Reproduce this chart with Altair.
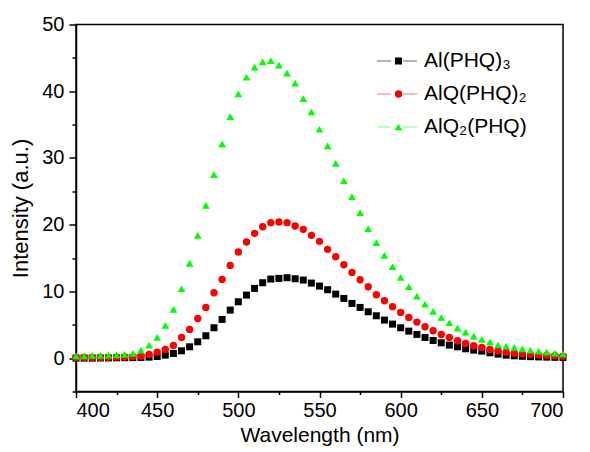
import altair as alt
import pandas as pd

wavelength = list(range(400, 701, 5))

al_phq3 = [0.0, 0.0, 0.0, 0.02, 0.03, 0.05, 0.06, 0.08, 0.1, 0.15,
           0.25, 0.45, 0.7, 1.1, 1.7, 2.45, 3.35, 4.55, 5.8, 7.2,
           8.45, 9.45, 10.45, 11.3, 11.85, 11.95, 12.05, 11.9, 11.7, 11.25,
           10.8, 10.25, 9.6, 8.95, 8.2, 7.6, 6.95, 6.35, 5.7, 5.1,
           4.55, 4.05, 3.55, 3.1, 2.65, 2.3, 1.95, 1.7, 1.4, 1.2,
           1.05, 0.8, 0.6, 0.45, 0.35, 0.28, 0.22, 0.18, 0.15, 0.12, 0.1]

alq_phq2 = [0.1, 0.1, 0.1, 0.1, 0.12, 0.15, 0.18, 0.22, 0.3, 0.55,
            0.9, 1.3, 1.9, 3.1, 4.3, 5.95, 7.6, 9.8, 11.8, 13.9,
            15.9, 17.4, 18.7, 19.7, 20.3, 20.4, 20.3, 19.8, 19.3, 18.4,
            17.5, 16.3, 15.2, 14.0, 12.85, 11.75, 10.7, 9.5, 8.6, 7.7,
            6.85, 6.1, 5.4, 4.7, 4.1, 3.55, 3.1, 2.6, 2.2, 1.85,
            1.6, 1.3, 1.1, 0.9, 0.75, 0.65, 0.55, 0.48, 0.42, 0.36, 0.3]

alq2_phq = [0.35, 0.35, 0.4, 0.4, 0.45, 0.5, 0.55, 0.7, 1.2, 1.95,
            3.1, 4.9, 7.3, 10.4, 14.2, 18.4, 22.9, 27.5, 32.1, 36.2,
            39.6, 42.1, 43.6, 44.4, 44.6, 43.9, 42.7, 41.2, 38.9, 36.9,
            34.3, 31.8, 29.2, 26.6, 24.2, 21.8, 19.4, 17.3, 15.4, 13.7,
            12.1, 10.7, 9.3, 8.1, 7.0, 6.1, 5.3, 4.5, 3.9, 3.3,
            2.8, 2.4, 2.0, 1.8, 1.6, 1.4, 1.2, 1.05, 0.9, 0.75, 0.65]

series_names = ["Al(PHQ)\u2083", "AlQ(PHQ)\u2082", "AlQ\u2082(PHQ)"]
line_keys = ["line 1", "line 2", "line 3"]
marker_colors = ["#000000", "#ff0000", "#00ff00"]
line_colors = ["#707070", "#ff8080", "#80ff80"]
marker_shapes = ["square", "circle", "triangle-up"]
marker_sizes = [49, 60, 80]

x_major = [400, 450, 500, 550, 600, 650, 700]
x_minor = [425, 475, 525, 575, 625, 675]
y_major = [0, 10, 20, 30, 40, 50]
y_minor = [-5, 5, 15, 25, 35, 45]

rows = []
for name, key, vals in zip(series_names, line_keys, [al_phq3, alq_phq2, alq2_phq]):
    for w, v in zip(wavelength, vals):
        rows.append({"wavelength": w, "intensity": v, "series": name, "series_line": key})
df = pd.DataFrame(rows)

FONT = "Liberation Sans"
xscale = alt.Scale(domain=[400, 700], nice=False, zero=False)
yscale = alt.Scale(domain=[-5, 50], nice=False, zero=False)

marker_legend = alt.Legend(orient="none", legendX=312, legendY=26, title=None,
                           labelFont=FONT, labelFontSize=21, labelColor="#000000",
                           labelOffset=15, rowPadding=11, padding=0,
                           symbolSize=50, symbolStrokeWidth=0)

points = alt.Chart(df).mark_point(filled=True, opacity=1, strokeWidth=0).encode(
    x=alt.X("wavelength:Q", scale=xscale, title="Wavelength (nm)",
            axis=alt.Axis(values=x_major, tickSize=6, labelPadding=3, orient="bottom",
                          titlePadding=4, format="d")),
    y=alt.Y("intensity:Q", scale=yscale, title="Intensity (a.u.)",
            axis=alt.Axis(values=y_major, tickSize=7, labelPadding=5, orient="left",
                          titlePadding=9, titleFontSize=22, format="d")),
    color=alt.Color("series:N", scale=alt.Scale(domain=series_names, range=marker_colors),
                    legend=marker_legend),
    shape=alt.Shape("series:N", scale=alt.Scale(domain=series_names, range=marker_shapes),
                    legend=marker_legend),
    size=alt.Size("series:N", scale=alt.Scale(domain=series_names, range=marker_sizes), legend=None),
)

minor = alt.Chart(df).mark_point(opacity=0).encode(
    x=alt.X("wavelength:Q", scale=xscale, title=None,
            axis=alt.Axis(values=x_minor, tickSize=3, labels=False, domain=False, orient="bottom")),
    y=alt.Y("intensity:Q", scale=yscale, title=None,
            axis=alt.Axis(values=y_minor, tickSize=4, labels=False, domain=False, orient="left")),
)

legend_lines = alt.Chart(df).transform_filter("false").mark_point(filled=False, strokeWidth=1.5).encode(
    x=alt.X("wavelength:Q", scale=xscale, axis=None),
    y=alt.Y("intensity:Q", scale=yscale, axis=None),
    stroke=alt.Stroke("series_line:N", scale=alt.Scale(domain=line_keys, range=line_colors),
                      legend=alt.Legend(orient="none", legendX=310.5, legendY=26, title=None,
                                        labelFont=FONT, labelFontSize=21, labelExpr="''",
                                        labelOffset=15, rowPadding=11, padding=0,
                                        symbolSize=100, symbolStrokeWidth=1.5,
                                        symbolType="M-4,0H-1.2M1.2,0H4")),
)

chart = alt.layer(legend_lines, points, minor).resolve_axis(
    x="independent", y="independent"
).properties(
    width=487, height=367,
    padding={"left": 76, "top": 24.5, "right": 27, "bottom": 60.5},
    autosize=alt.AutoSizeParams(type="none"),
    background="#ffffff",
).configure_view(
    stroke="#000000", strokeWidth=1.5
).configure_axis(
    grid=False, domainColor="#000000", domainWidth=1.5, tickColor="#000000", tickWidth=1.5,
    labelFont=FONT, labelFontSize=20, labelColor="#000000",
    titleFont=FONT, titleFontSize=21, titleFontWeight="normal", titleColor="#000000",
)

chart.save("out.html", embed_options={"renderer": "svg", "actions": False})
